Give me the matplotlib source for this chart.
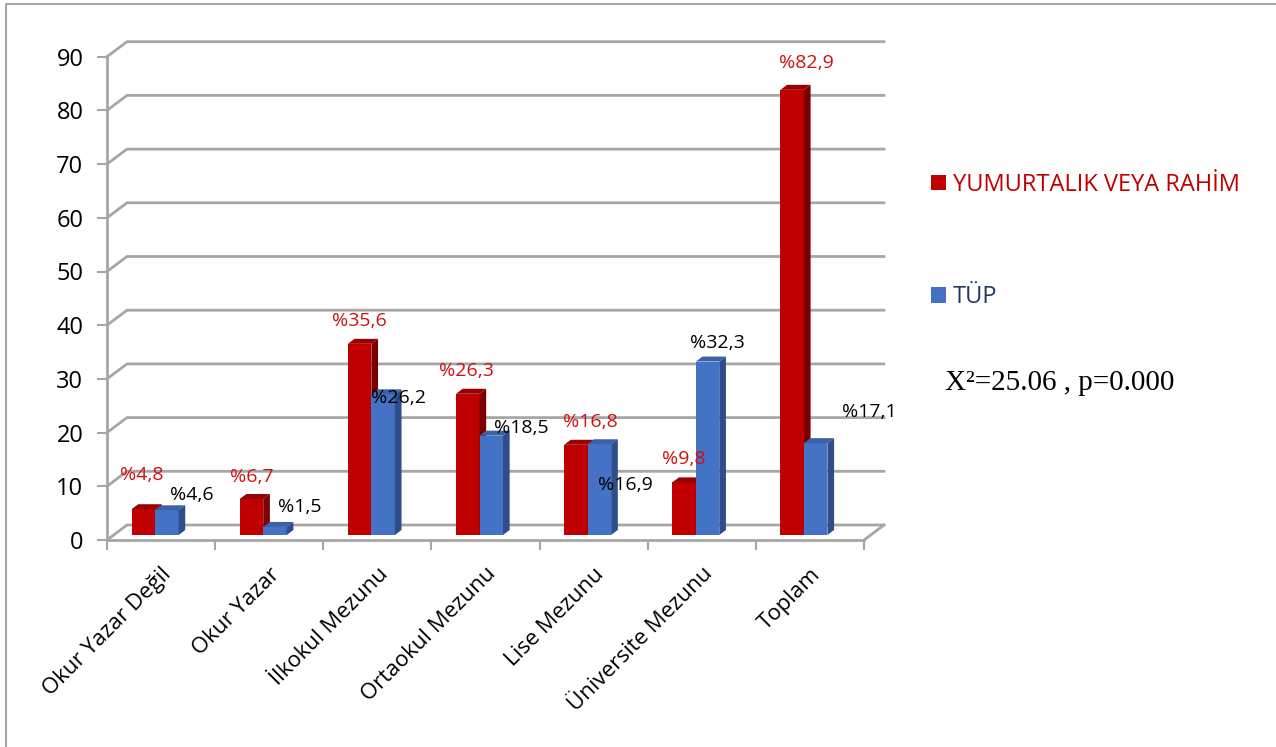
import numpy as np
import matplotlib
matplotlib.use("Agg")
import matplotlib.pyplot as plt
from matplotlib.patches import Polygon, Patch
from matplotlib.lines import Line2D

categories = ["Okur Yazar Değil", "Okur Yazar", "İlkokul Mezunu", "Ortaokul Mezunu",
              "Lise Mezunu", "Üniversite Mezunu", "Toplam"]
rahim = [4.8, 6.7, 35.6, 26.3, 16.8, 9.8, 82.9]
tup = [4.6, 1.5, 26.2, 18.5, 16.9, 32.3, 17.1]
rahim_labels = ["%4,8", "%6,7", "%35,6", "%26,3", "%16,8", "%9,8", "%82,9"]
tup_labels = ["%4,6", "%1,5", "%26,2", "%18,5", "%16,9", "%32,3", "%17,1"]
series_names = ["YUMURTALIK VEYA RAHİM", "TÜP"]
y_ticks = list(range(0, 100, 10))

rahim_off = [(-2, 34), (0, 22), (0, 23), (-1, 23), (14, 23), (0, 23), (14, 27)]
tup_off = [(25, 15), (25, 20), (15, -4), (30, 8), (26, -41), (10, 19), (54, 31)]

RED, RED_TOP, RED_SIDE = "#C00000", "#9A0000", "#7A0000"
BLUE, BLUE_TOP, BLUE_SIDE = "#4472C4", "#3A62A8", "#2D4E8A"
GRID = "#A6A6A6"

W, H = 1276, 747
fig = plt.figure(figsize=(W / 100, H / 100), dpi=100)
plt.rcParams["font.family"] = ["Open Sans", "DejaVu Sans"]

# front plane of the 3d box
left, right, bottom, top = 107, 864, 540, 56.7
ax = fig.add_axes([left / W, 1 - bottom / H, (right - left) / W, (bottom - top) / H])
n = len(categories)
ax.set_xlim(-0.5, n - 0.5)
ax.set_ylim(0, 90)

px_x = n / (right - left)
px_y = 90 / (bottom - top)
DX, DY = 20 * px_x, 15 * px_y          # depth of the box
bw = 23.5 * px_x                        # bar width
shift = -6 * px_x

# walls: back gridlines + side diagonals + floor edge
for v in y_ticks:
    ax.plot([-0.5, -0.5 + DX, n - 0.5 + DX], [v, v + DY, v + DY], color=GRID, lw=2,
            clip_on=False, zorder=1, solid_joinstyle="miter")
ax.plot([n - 0.5, n - 0.5 + DX], [0, DY], color=GRID, lw=2, clip_on=False, zorder=1)


def bar3d(x0, val, front, topc, side):
    x1 = x0 + bw
    b = DY / 3
    t = val + DY / 3
    ddx, ddy = DX / 3, DY / 3
    ax.add_patch(Polygon([(x0, b), (x1, b), (x1, t), (x0, t)], closed=True,
                         fc=front, ec="none", zorder=3, clip_on=False))
    ax.add_patch(Polygon([(x0, t), (x0 + ddx, t + ddy), (x1 + ddx, t + ddy), (x1, t)],
                         closed=True, fc=topc, ec="none", zorder=3, clip_on=False))
    ax.add_patch(Polygon([(x1, b), (x1 + ddx, b + ddy), (x1 + ddx, t + ddy), (x1, t)],
                         closed=True, fc=side, ec="none", zorder=3, clip_on=False))
    return x0 + bw / 2, t


for i in range(n):
    xc = i + shift
    rx, rt = bar3d(xc - bw, rahim[i], RED, RED_TOP, RED_SIDE)
    bx, bt = bar3d(xc, tup[i], BLUE, BLUE_TOP, BLUE_SIDE)
    ax.annotate(rahim_labels[i], (rx, rt), xytext=rahim_off[i], textcoords="offset pixels",
                ha="center", va="center", fontsize=14, color="#D01010", zorder=5,
                annotation_clip=False)
    ax.annotate(tup_labels[i], (bx, bt), xytext=tup_off[i], textcoords="offset pixels",
                ha="center", va="center", fontsize=14, color="black", zorder=5,
                annotation_clip=False)

# axes
for s in ["top", "right"]:
    ax.spines[s].set_visible(False)
for s in ["left", "bottom"]:
    ax.spines[s].set_color(GRID)
    ax.spines[s].set_linewidth(2)
ax.set_yticks(y_ticks)
ax.tick_params(axis="y", length=7, width=1.5, color=GRID, pad=10, labelsize=17)
ax.set_xticks(np.arange(n + 1) - 0.5)
ax.set_xticklabels([])
ax.tick_params(axis="x", which="major", length=7, width=1.5, color=GRID)
ax.set_xticks(np.arange(n), minor=True)
ax.set_xticklabels(categories, minor=True, rotation=45, ha="right", rotation_mode="anchor",
                   fontsize=16)
ax.tick_params(axis="x", which="minor", length=0, pad=17)
ax.set_facecolor("none")

# legend
leg = fig.legend(handles=[Patch(fc=RED), Patch(fc=BLUE)], labels=series_names,
                 loc="center left", bbox_to_anchor=(931 / W, 1 - 241 / H), frameon=False,
                 fontsize=17, handlelength=0.62, handleheight=0.62, handletextpad=0.3,
                 labelspacing=3.75, borderpad=0, borderaxespad=0)
leg.get_texts()[0].set_color("#C00000")
leg.get_texts()[1].set_color("#1F3864")

fig.text(945 / W, 1 - 383 / H, "X²=25.06 , p=0.000", family="Liberation Serif",
         fontsize=21, va="center", ha="left")

# outer frame (left and top edges only)
fig.add_artist(Line2D([6 / W, 6 / W, 1], [0, 1 - 4 / H, 1 - 4 / H], color=GRID, lw=1.5))

fig.savefig("out.png", dpi=100)
